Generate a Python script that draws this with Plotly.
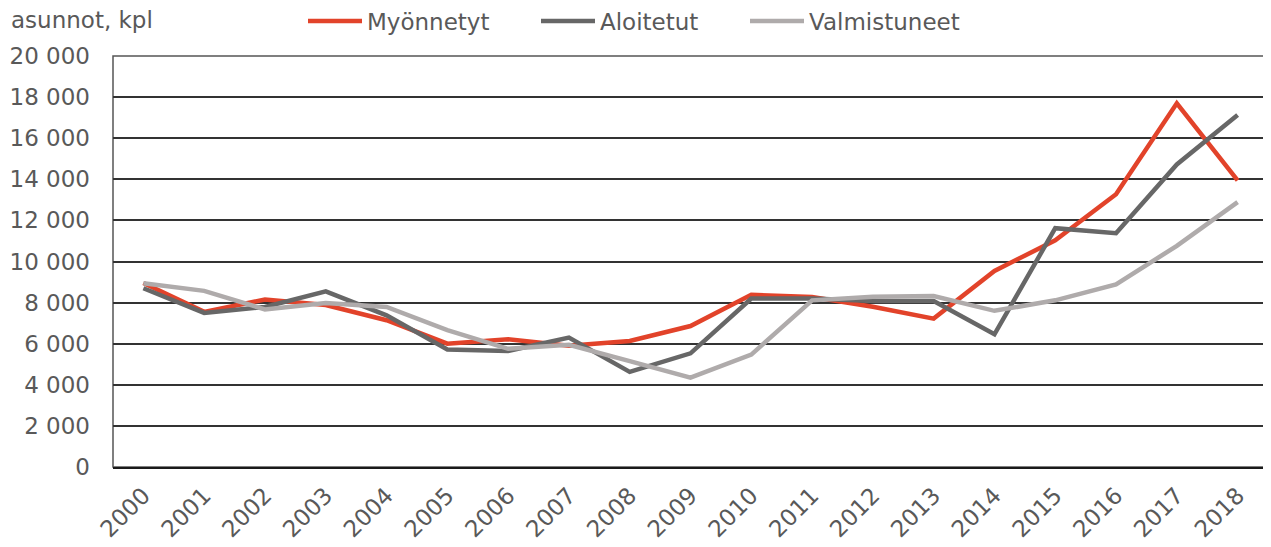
import plotly.graph_objects as go

years = [str(y) for y in range(2000, 2019)]
myonnetyt = [8950, 7550, 8150, 7880, 7140, 6000, 6220, 5900, 6130, 6860, 8380, 8270, 7800, 7220, 9540, 11030, 13270, 17700, 13950]
aloitetut = [8700, 7500, 7790, 8550, 7380, 5720, 5650, 6300, 4630, 5530, 8200, 8200, 8080, 8080, 6460, 11620, 11380, 14720, 17130]
valmistuneet = [8940, 8570, 7670, 7980, 7790, 6660, 5750, 5950, 5150, 4350, 5470, 8110, 8280, 8320, 7600, 8110, 8890, 10760, 12890]
ytick_vals = list(range(0, 20001, 2000))
ytick_text = ["0", "2 000", "4 000", "6 000", "8 000", "10 000", "12 000", "14 000", "16 000", "18 000", "20 000"]

TXT = "#595959"
FS = 24
OFF = 8  # page body margin offset
PL, PT, PW, PH = 113, 56, 1155, 411  # plot area in screen px

fig = go.Figure()
series = [("Myönnetyt", myonnetyt, "#E2432A", "legend"),
          ("Aloitetut", aloitetut, "#676767", "legend2"),
          ("Valmistuneet", valmistuneet, "#AFABAB", "legend3")]
for name, vals, col, lg in series:
    fig.add_trace(go.Scatter(x=years, y=vals, name=name, mode="lines",
                             line=dict(color=col, width=4.5), legend=lg))

def legend_at(xpx):
    return dict(orientation="h", x=(xpx - PL) / PW, y=1 + (PT - 21) / PH,
                xanchor="left", yanchor="middle", itemwidth=54,
                font=dict(size=23, color=TXT, family="DejaVu Sans, Verdana"),
                bgcolor="rgba(0,0,0,0)")

W, H = 1271 - OFF, 547 - OFF
fig.update_layout(
    width=W, height=H,
    margin=dict(l=PL - OFF, r=W - (PL - OFF) - PW, t=PT - OFF,
                b=H - (PT - OFF) - PH, autoexpand=False),
    paper_bgcolor="white", plot_bgcolor="white",
    font=dict(family="DejaVu Sans, Verdana", size=FS, color=TXT),
    showlegend=True,
    legend=legend_at(303),
    legend2=legend_at(536),
    legend3=legend_at(745),
    xaxis=dict(type="category", range=[-0.5, 18.5], tickangle=-45, showgrid=False,
               showline=True, linecolor="#1a1a1a", linewidth=2, ticks="",
               ticklabelstandoff=4, automargin=False,
               tickfont=dict(size=23, color=TXT)),
    yaxis=dict(range=[0, 20000], tickvals=ytick_vals, ticktext=ytick_text,
               showgrid=True, gridcolor="#333333", gridwidth=1.5,
               showline=False, zeroline=False, ticks="", automargin=False,
               ticklabelstandoff=22, tickfont=dict(size=23, color=TXT)),
    annotations=[dict(text="asunnot, kpl", x=(OFF + 1 - PL) / PW, y=1 + (PT - 20) / PH,
                      xref="paper", yref="paper", showarrow=False, xanchor="left",
                      yanchor="middle", font=dict(size=23, color=TXT))],
    shapes=[dict(type="rect", xref="paper", yref="paper", x0=0, x1=1, y0=0, y1=1,
                 line=dict(color="#555555", width=1.5), layer="below")],
)

fig.write_html("out.html")
